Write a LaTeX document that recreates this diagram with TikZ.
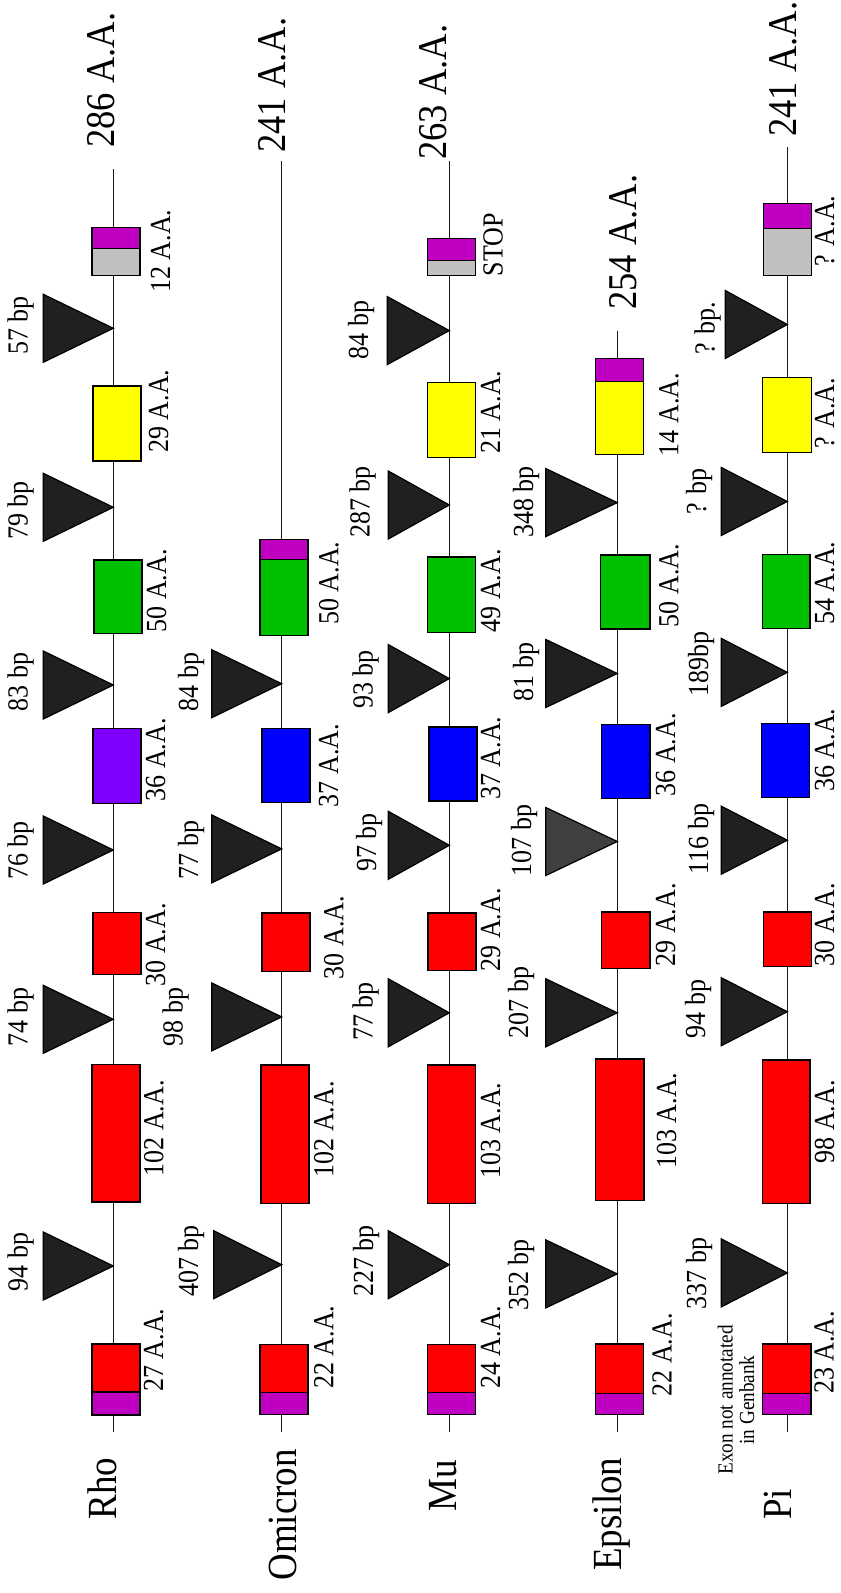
\documentclass[tikz,border=0pt]{standalone}
\usepackage{fontspec}
\setmainfont{Liberation Serif}
\definecolor{exred}{HTML}{FF0000}
\definecolor{exmag}{HTML}{C000C0}
\definecolor{exgry}{HTML}{C0C0C0}
\definecolor{exyel}{HTML}{FFFF00}
\definecolor{exgrn}{HTML}{00C000}
\definecolor{exblu}{HTML}{0000FF}
\definecolor{expur}{HTML}{8000FF}
\definecolor{trifill}{HTML}{202020}
\definecolor{trilight}{HTML}{404040}
\newcommand\exbox[5]{\filldraw[ex,fill=#1] (#2,#3) rectangle (#4,#5);}
\newcommand\intron[4][tri]{\filldraw[#1] (#2,#3) -- ({#2-#4},{#3-34}) -- ({#2-#4},{#3+34}) -- cycle;}
\tikzset{
  ax/.style={line width=0.75pt, draw=black!90},
  ex/.style={draw=black, line width=0.6pt},
  tri/.style={draw=black, fill=trifill, line width=0.6pt},
  trilt/.style={draw=black, fill=trilight, line width=0.6pt},
  lab/.style={rotate=90, yscale=1.12, inner sep=0pt, anchor=base west, font=\fontsize{13}{15}\selectfont},
  laa/.style={lab, text depth=0pt},
  big/.style={lab, text depth=0pt, font=\fontsize{18.25}{21}\selectfont},
  gname/.style={lab, font=\fontsize{18.5}{21}\selectfont},
  note/.style={rotate=90, yscale=1.12, inner sep=0pt, anchor=center, align=center, font=\fontsize{9.6}{9.7}\selectfont},
}
\begin{document}
\begin{tikzpicture}[x=0.5pt,y=-0.5pt]
\useasboundingbox (0,0) rectangle (840,1593);

% ---------------- Rho ----------------
\coordinate (rhoTop) at (113.3,169);
\coordinate (rhoBot) at (113.3,1432);
\draw[ax] (rhoTop) -- (rhoBot);
\exbox{exred}{92}{1344}{140}{1392}
\exbox{exmag}{92}{1392}{140}{1415}
\exbox{exred}{92}{1064.3}{140}{1202}
\exbox{exred}{93}{912.3}{141}{974.7}
\exbox{expur}{93}{728.3}{141}{803.3}
\exbox{exgrn}{94}{560}{142}{633.3}
\exbox{exyel}{93}{386}{141}{461}
\exbox{exmag}{92}{227.7}{140}{248.3}
\exbox{exgry}{92}{248.3}{140}{275.3}
\intron{113.3}{1266}{70}
\intron{113.3}{1019.3}{70}
\intron{113.3}{850}{70}
\intron{113.3}{685}{70}
\intron{113.3}{507.3}{70}
\intron{113.3}{328.3}{70}
\node[big] (rhoLen) at (114,148) {286 A.A.};
\node[gname] (rhoName) at (116.7,1520) {Rho};
\node[laa] (rhoA1) at (163,1392) {27 A.A.};
\node[laa] (rhoA2) at (163.3,1176.7) {102 A.A.};
\node[laa] (rhoA3) at (165,986.7) {30 A.A.};
\node[laa] (rhoA4) at (165,801.7) {36 A.A.};
\node[laa] (rhoA5) at (166,632.7) {50 A.A.};
\node[laa] (rhoA6) at (168,453) {29 A.A.};
\node[laa] (rhoA7) at (170,293) {12 A.A.};
\node[lab] (rhoI1) at (27.5,1291.7) {94 bp};
\node[lab] (rhoI2) at (27.5,1046.7) {74 bp};
\node[lab] (rhoI3) at (27.5,880) {76 bp};
\node[lab] (rhoI4) at (27.5,711.7) {83 bp};
\node[lab] (rhoI5) at (27.5,540) {79 bp};
\node[lab] (rhoI6) at (27.5,355) {57 bp};

% ---------------- Omicron ----------------
\coordinate (omiTop) at (281.7,160.7);
\coordinate (omiBot) at (281.7,1431.7);
\draw[ax] (omiTop) -- (omiBot);
\exbox{exred}{260}{1344.6}{308}{1392.7}
\exbox{exmag}{260}{1392.7}{308}{1414.8}
\exbox{exred}{261}{1065}{309}{1203.3}
\exbox{exred}{262}{912.9}{310}{971.8}
\exbox{exblu}{262}{728.6}{310}{802.8}
\exbox{exmag}{260}{539.3}{308}{559.7}
\exbox{exgrn}{260}{559.7}{308}{635.2}
\intron{281.7}{1264.7}{68}
\intron{281.7}{1016.9}{70}
\intron{281.7}{848.9}{70}
\intron{281.7}{683.7}{70}
\node[big] (omiLen) at (285,153) {241 A.A.};
\node[gname] (omiName) at (296.7,1581) {Omicron};
\node[laa] (omiA1) at (333.3,1389) {22 A.A.};
\node[laa] (omiA2) at (333.3,1177.7) {102 A.A.};
\node[laa] (omiA3) at (343.3,979.5) {30 A.A.};
\node[laa] (omiA4) at (338,807.5) {37 A.A.};
\node[laa] (omiA5) at (338.3,625) {50 A.A.};
\node[lab] (omiI1) at (198,1297) {407 bp};
\node[lab] (omiI2) at (182.5,1046.7) {98 bp};
\node[lab] (omiI3) at (198,879.6) {77 bp};
\node[lab] (omiI4) at (198,711.7) {84 bp};

% ---------------- Mu ----------------
\coordinate (muTop) at (449.3,160.7);
\coordinate (muBot) at (449.3,1431.7);
\draw[ax] (muTop) -- (muBot);
\exbox{exred}{427.5}{1344.6}{475.5}{1392.7}
\exbox{exmag}{427.5}{1392.7}{475.5}{1414.8}
\exbox{exred}{427.5}{1065}{475.5}{1203.3}
\exbox{exred}{428}{912.9}{476}{970.8}
\exbox{exblu}{429}{727}{477}{801}
\exbox{exgrn}{427.5}{557}{475.5}{632.7}
\exbox{exyel}{427.5}{382.7}{475.5}{457.7}
\exbox{exmag}{427.5}{238.5}{475.5}{260.2}
\exbox{exgry}{427.5}{260.2}{475.5}{275.5}
\intron{449.3}{1264.7}{61}
\intron{449.3}{1012.8}{61}
\intron{449.3}{845.3}{61}
\intron{449.3}{678.6}{61}
\intron{449.3}{505}{61}
\intron{449.3}{330.6}{62}
\node[big] (muLen) at (446,160) {263 A.A.};
\node[gname] (muName) at (456.7,1512) {Mu};
\node[laa] (muA1) at (500,1389) {24 A.A.};
\node[laa] (muA2) at (500,1179) {103 A.A.};
\node[laa] (muA3) at (500,971.8) {29 A.A.};
\node[laa] (muA4) at (500,800) {37 A.A.};
\node[laa] (muA5) at (500,632.7) {49 A.A.};
\node[laa] (muA6) at (500,454) {21 A.A.};
\node[laa] (muA7) at (502.7,276.7) {STOP};
\node[lab] (muI1) at (373,1297) {227 bp};
\node[lab] (muI2) at (372.5,1041) {77 bp};
\node[lab] (muI3) at (376,872) {97 bp};
\node[lab] (muI4) at (372.5,709) {93 bp};
\node[lab] (muI5) at (369.5,538.3) {287 bp};
\node[lab] (muI6) at (368,359.7) {84 bp};

% ---------------- Epsilon ----------------
\coordinate (epsTop) at (617.3,330.6);
\coordinate (epsBot) at (617.3,1431.7);
\draw[ax] (epsTop) -- (epsBot);
\exbox{exred}{595.7}{1344}{643.5}{1393.3}
\exbox{exmag}{595.7}{1393.3}{643.5}{1414.8}
\exbox{exred}{595.7}{1058.9}{644}{1200.7}
\exbox{exred}{601.5}{911.9}{650}{968.2}
\exbox{exblu}{601.5}{724.5}{650}{798.5}
\exbox{exgrn}{600.5}{555}{650}{629}
\exbox{exmag}{595.7}{358.7}{643.5}{381.6}
\exbox{exyel}{595.7}{381.6}{643.5}{454.1}
\intron{617.3}{1273.9}{71.5}
\intron{617.3}{1012.8}{71.5}
\intron[trilt]{617.3}{841.5}{71.5}
\intron{617.3}{673.5}{71.5}
\intron{617.3}{502.6}{71.5}
\node[big] (epsLen) at (636.7,310) {254 A.A.};
\node[gname] (epsName) at (621.7,1571) {Epsilon};
\node[laa] (epsA1) at (671.7,1396.8) {22 A.A.};
\node[laa] (epsA2) at (676,1169) {103 A.A.};
\node[laa] (epsA3) at (675,966.7) {29 A.A.};
\node[laa] (epsA4) at (675,796.7) {36 A.A.};
\node[laa] (epsA5) at (678.3,627.6) {50 A.A.};
\node[laa] (epsA6) at (678.3,456.6) {14 A.A.};
\node[lab] (epsI1) at (528,1311.3) {352 bp};
\node[lab] (epsI2) at (528,1038.4) {207 bp};
\node[lab] (epsI3) at (531,876.7) {107 bp};
\node[lab] (epsI4) at (533,701.5) {81 bp};
\node[lab] (epsI5) at (533,538.3) {348 bp};

% ---------------- Pi ----------------
\coordinate (piTop) at (787.3,147);
\coordinate (piBot) at (787.3,1431.7);
\draw[ax] (piTop) -- (piBot);
\exbox{exred}{762.7}{1344}{811}{1393.3}
\exbox{exmag}{762.7}{1393.3}{811}{1414.8}
\exbox{exred}{762.3}{1059.9}{810}{1203.3}
\exbox{exred}{763.3}{911.9}{811.7}{966.7}
\exbox{exblu}{761.7}{723.5}{809.3}{797.7}
\exbox{exgrn}{762.3}{554.6}{810}{628.6}
\exbox{exyel}{762.3}{377.6}{811.7}{452.6}
\exbox{exmag}{763.3}{203.5}{811.7}{228.3}
\exbox{exgry}{763.3}{228.3}{811.7}{275.4}
\intron{787.3}{1272.9}{66}
\intron{787.3}{1011.7}{66}
\intron{787.3}{840.2}{66}
\intron{787.3}{672.4}{66}
\intron{787.3}{501.5}{66}
\intron{787.3}{324.5}{62}
\node[big] (piLen) at (796,137) {241 A.A.};
\node[gname] (piName) at (791.7,1520) {Pi};
\node[note] (piNote) at (736,1400) {Exon not annotated\\in Genbank};
\node[laa] (piA1) at (833.5,1394.3) {23 A.A.};
\node[laa] (piA2) at (834,1163.8) {98 A.A.};
\node[laa] (piA3) at (834,966.7) {30 A.A.};
\node[laa] (piA4) at (834,792) {36 A.A.};
\node[laa] (piA5) at (834,625) {54 A.A.};
\node[laa] (piA6) at (834,449) {? A.A.};
\node[laa] (piA7) at (834,266.7) {? A.A.};
\node[lab] (piI1) at (706,1309.8) {337 bp};
\node[lab] (piI2) at (705,1038.4) {94 bp};
\node[lab] (piI3) at (708,874.5) {116 bp};
\node[lab] (piI4) at (708,696.4) {189bp};
\node[lab] (piI5) at (706,515.3) {? bp};
\node[lab] (piI6) at (714.5,355) {? bp.};
\end{tikzpicture}
\end{document}
